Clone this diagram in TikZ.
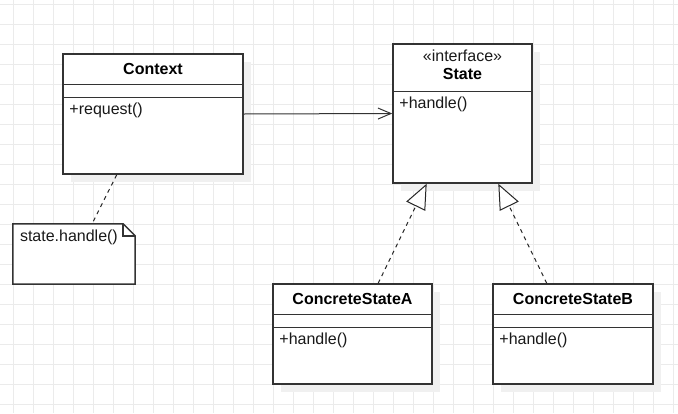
\documentclass[tikz,border=0pt]{standalone}
\usepackage{fontspec}
\setmainfont{Liberation Sans}
\usepackage{tikz}
\usetikzlibrary{calc}
\usetikzlibrary{arrows.meta}
\usetikzlibrary{shadows}

\begin{document}
\begin{tikzpicture}[x=1pt,y=-1pt,
		txt/.style={font=\fontsize{16}{19}\selectfont,text=black!90,inner sep=0pt},
		title/.style={font=\fontsize{16}{19}\selectfont\bfseries,text=black,inner sep=0pt},
		umlbox/.style={draw=black!80,fill=white,line width=1.5pt,inner sep=0pt,
			general shadow={fill=black!6,shadow xshift=8pt,shadow yshift=-8pt}},
		cline/.style={draw=black!80,line width=1.5pt},
		notebox/.style={draw=black!80,fill=white,line width=1.5pt,line join=miter},
		gridline/.style={draw=black!8,line width=1pt},
		assoc/.style={draw=black!80,line width=1pt,-{Straight Barb[length=13pt,width=11pt]}},
		realizes/.style={draw=black!85,line width=1pt,dash pattern=on 4pt off 4pt,
			-{Triangle[fill=white,length=25pt,width=21pt]}},
		link/.style={draw=black!85,line width=1pt,dash pattern=on 4pt off 4pt}]
		\useasboundingbox (0,0) rectangle (678,413);
		\fill[white] (0,0) rectangle (678,413);
		% grid
		\foreach \gx in {0,...,33}
			\draw[gridline] ({13.3+20*\gx},0) -- ({13.3+20*\gx},413);
		\foreach \gy in {0,...,20}
			\draw[gridline] (0,{4.3+20*\gy}) -- (678,{4.3+20*\gy});
		% Context
		\node[umlbox,minimum width=180pt,minimum height=120pt] (ctx) at (153,114) {};
		\draw[cline] ([yshift=-31pt]ctx.north west) -- ([yshift=-31pt]ctx.north east)
			  ([yshift=-44pt]ctx.north west) -- ([yshift=-44pt]ctx.north east);
		\node[title] (ctxname) at ([yshift=-15.5pt]ctx.north) {Context};
		\node[txt,anchor=west] (ctxop) at ([xshift=7pt,yshift=-57pt]ctx.north west) {+request()};
		% State
		\node[umlbox,minimum width=139pt,minimum height=139pt] (state) at (462.5,113.5) {};
		\draw[cline] ([yshift=-48pt]state.north west) -- ([yshift=-48pt]state.north east);
		\node[txt] (stereo) at ([yshift=-12.7pt]state.north) {«interface»};
		\node[title] (statename) at ([yshift=-31pt]state.north) {State};
		\node[txt,anchor=west] (stateop) at ([xshift=7pt,yshift=-61pt]state.north west) {+handle()};
		% ConcreteStateA
		\node[umlbox,minimum width=159pt,minimum height=100pt] (csA) at (352.5,334) {};
		\draw[cline] ([yshift=-31pt]csA.north west) -- ([yshift=-31pt]csA.north east)
			  ([yshift=-44pt]csA.north west) -- ([yshift=-44pt]csA.north east);
		\node[title] (csAname) at ([yshift=-16pt]csA.north) {ConcreteStateA};
		\node[txt,anchor=west] (csAop) at ([xshift=7pt,yshift=-57pt]csA.north west) {+handle()};
		% ConcreteStateB
		\node[umlbox,minimum width=160pt,minimum height=100pt] (csB) at (573,334) {};
		\draw[cline] ([yshift=-31pt]csB.north west) -- ([yshift=-31pt]csB.north east)
			  ([yshift=-44pt]csB.north west) -- ([yshift=-44pt]csB.north east);
		\node[title] (csBname) at ([yshift=-16pt]csB.north) {ConcreteStateB};
		\node[txt,anchor=west] (csBop) at ([xshift=7pt,yshift=-57pt]csB.north west) {+handle()};
		% note
		\node[minimum width=122pt,minimum height=60pt,inner sep=0pt] (note) at (74,254) {};
		\draw[notebox] (note.south west) -- (note.north west) -- ([xshift=-12pt]note.north east)
			  -- ([yshift=-12pt]note.north east) -- (note.south east) -- cycle;
		\draw[notebox,fill=none] ([xshift=-12pt]note.north east) |- ([yshift=-12pt]note.north east);
		\node[txt,anchor=west] (notetext) at ([xshift=7pt,yshift=-14pt]note.north west) {state.handle()};
		% connectors
		\draw[link] ($(ctx.south west)!0.3!(ctx.south east)$) -- ($(note.north west)!0.648!(note.north east)$);
		\draw[assoc] (ctx.east) -- (state.west);
		\draw[realizes] ($(csA.north west)!0.66!(csA.north east)$) -- ($(state.south west)!0.245!(state.south east)$);
		\draw[realizes] ($(csB.north west)!0.3375!(csB.north east)$) -- ($(state.south west)!0.755!(state.south east)$);
\end{tikzpicture}
\end{document}
